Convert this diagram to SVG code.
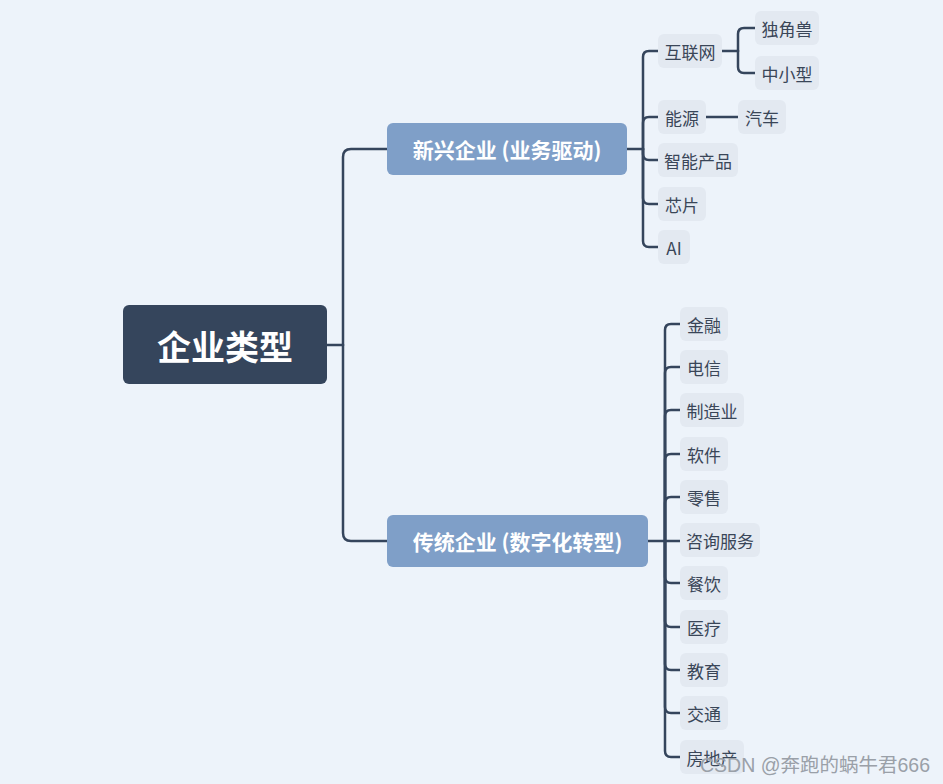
<svg xmlns="http://www.w3.org/2000/svg" width="943" height="784" viewBox="0 0 943 784">
<style>
text{font-family:"Noto Sans CJK SC","Microsoft YaHei",sans-serif;dominant-baseline:central;text-anchor:middle}
.root rect{fill:#35455c}
.root text{fill:#fff;font-size:34px;font-weight:bold}
.br rect{fill:#7f9fc8}
.br text{fill:#fff;font-size:21px;font-weight:bold}
.lf rect{fill:#e3e9f1}
.lf text{fill:#3a4658;font-size:17px}
.cn path{fill:none;stroke:#35455c;stroke-width:2.5;stroke-linecap:round}
.wm{fill:#9aa0a8;font-size:19.5px;font-family:"Liberation Sans","Noto Sans CJK SC",sans-serif;text-anchor:start}
</style>
<rect width="943" height="784" fill="#edf3fa"/>
<g class="cn">
<path d="M327 345H343"/>
<path d="M343 345V157Q343 149 351 149H387"/>
<path d="M343 345V533Q343 541 351 541H387"/>
<path d="M627 149H643"/>
<path d="M643 149V57Q643 51 649 51H658"/>
<path d="M643 149V123Q643 117 649 117H658"/>
<path d="M643 149V154Q643 160 649 160H658"/>
<path d="M643 149V198Q643 204 649 204H658"/>
<path d="M643 149V241Q643 247 649 247H658"/>
<path d="M722 51H738"/>
<path d="M738 51V34Q738 28 744 28H755"/>
<path d="M738 51V67Q738 73 744 73H755"/>
<path d="M706 117H738"/>
<path d="M648 541H665"/>
<path d="M665 541V330Q665 324 671 324H680"/>
<path d="M665 541V373Q665 367 671 367H680"/>
<path d="M665 541V416Q665 410 671 410H680"/>
<path d="M665 541V460Q665 454 671 454H680"/>
<path d="M665 541V503Q665 497 671 497H680"/>
<path d="M665 541H680"/>
<path d="M665 541V577Q665 583 671 583H680"/>
<path d="M665 541V621Q665 627 671 627H680"/>
<path d="M665 541V664Q665 670 671 670H680"/>
<path d="M665 541V707Q665 713 671 713H680"/>
<path d="M665 541V751Q665 757 671 757H680"/>
</g>
<g id="root" class="root"><rect x="123" y="305" width="204" height="79" rx="6"/><text x="225" y="345">企业类型</text></g>
<g id="b1" class="br"><rect x="387" y="123" width="240" height="52" rx="6"/><text x="507" y="149">新兴企业 (业务驱动)</text></g>
<g id="b2" class="br"><rect x="387" y="515" width="261" height="52" rx="6"/><text x="517.5" y="541">传统企业 (数字化转型)</text></g>
<g id="n-hlw" class="lf"><rect x="658" y="34" width="64" height="34" rx="6"/><text x="690" y="51">互联网</text></g>
<g id="n-djs" class="lf"><rect x="755" y="11" width="64" height="34" rx="6"/><text x="787" y="28">独角兽</text></g>
<g id="n-zxx" class="lf"><rect x="755" y="56" width="64" height="34" rx="6"/><text x="787" y="73">中小型</text></g>
<g id="n-ny" class="lf"><rect x="658" y="100" width="48" height="34" rx="6"/><text x="682" y="117">能源</text></g>
<g id="n-qc" class="lf"><rect x="738" y="100" width="48" height="34" rx="6"/><text x="762" y="117">汽车</text></g>
<g id="n-zncp" class="lf"><rect x="658" y="143" width="80" height="34" rx="6"/><text x="698" y="160">智能产品</text></g>
<g id="n-xp" class="lf"><rect x="658" y="187" width="48" height="34" rx="6"/><text x="682" y="204">芯片</text></g>
<g id="n-ai" class="lf"><rect x="658" y="230" width="32" height="34" rx="6"/><text x="674" y="247">AI</text></g>
<g id="n-jr" class="lf"><rect x="680" y="307" width="48" height="34" rx="6"/><text x="704" y="324">金融</text></g>
<g id="n-dx" class="lf"><rect x="680" y="350" width="48" height="34" rx="6"/><text x="704" y="367">电信</text></g>
<g id="n-zzy" class="lf"><rect x="680" y="393" width="64" height="34" rx="6"/><text x="712" y="410">制造业</text></g>
<g id="n-rj" class="lf"><rect x="680" y="437" width="48" height="34" rx="6"/><text x="704" y="454">软件</text></g>
<g id="n-ls" class="lf"><rect x="680" y="480" width="48" height="34" rx="6"/><text x="704" y="497">零售</text></g>
<g id="n-zxfw" class="lf"><rect x="680" y="523" width="80" height="34" rx="6"/><text x="720" y="540">咨询服务</text></g>
<g id="n-cy" class="lf"><rect x="680" y="566" width="48" height="34" rx="6"/><text x="704" y="583">餐饮</text></g>
<g id="n-yl" class="lf"><rect x="680" y="610" width="48" height="34" rx="6"/><text x="704" y="627">医疗</text></g>
<g id="n-jy" class="lf"><rect x="680" y="653" width="48" height="34" rx="6"/><text x="704" y="670">教育</text></g>
<g id="n-jt" class="lf"><rect x="680" y="696" width="48" height="34" rx="6"/><text x="704" y="713">交通</text></g>
<g id="n-fdc" class="lf"><rect x="680" y="740" width="64" height="34" rx="6"/><text x="712" y="757">房地产</text></g>
<text class="wm" x="700" y="765">CSDN @奔跑的蜗牛君666</text>
</svg>
